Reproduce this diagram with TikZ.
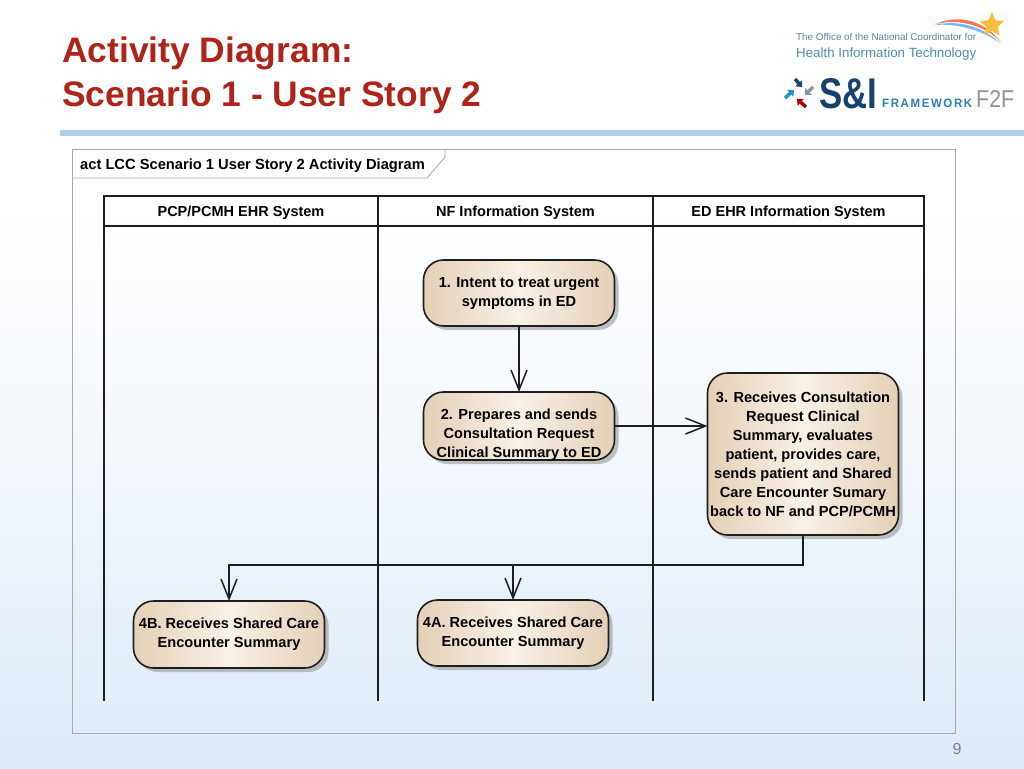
\documentclass[tikz,border=0pt]{standalone}
\usepackage{fontspec}
\setmainfont{Liberation Sans}
\usetikzlibrary{arrows.meta,shadows,shapes.geometric}
\definecolor{titlered}{HTML}{B02318}
\definecolor{barblue}{HTML}{AFD0EA}
\definecolor{framegray}{HTML}{A8A8A8}
\definecolor{linedark}{HTML}{1E1E1E}
\definecolor{tan}{HTML}{E4D0B6}
\definecolor{tanlight}{HTML}{F8F1E6}
\definecolor{bgblue}{HTML}{DCEAF7}
\definecolor{bgmid}{HTML}{F1F6FC}
\definecolor{navy}{HTML}{17426F}
\definecolor{fwblue}{HTML}{2A7FB5}
\definecolor{hitblue}{HTML}{4C8DB3}
\definecolor{oncgray}{HTML}{5F8199}
\definecolor{f2fgray}{HTML}{8E9499}
\definecolor{stargold}{HTML}{F6BE3C}
\newcommand\lowline[1]{\smash{\raisebox{-12pt}{#1}}}
\tikzset{
  x=1pt,y=-1pt,
  titletext/.style={anchor=base west,inner sep=0,font=\fontsize{35.4}{40}\selectfont\bfseries,text=titlered},
  act/.style={draw=linedark,line width=1.6pt,rounded corners=20pt,inner sep=0,outer sep=0,
    left color=tan,right color=tan,middle color=tanlight,
    align=center,font=\fontsize{14.6}{19}\selectfont\bfseries,
    minimum width=191pt,
    drop shadow={shadow xshift=4pt,shadow yshift=-4pt,fill=black!40,opacity=.6}},
  lanehead/.style={draw=linedark,line width=2pt,minimum height=30pt,inner sep=0,outer sep=0,
    text height=10pt,text depth=0pt,
    font=\fontsize{14.5}{17}\selectfont\bfseries},
  laneline/.style={draw=linedark,line width=2pt},
  flow/.style={draw=linedark,line width=1.5pt,-{Straight Barb[length=20pt,width=16pt,line width=1.5pt]}},
  logotext/.style={anchor=base west,inner sep=0},
  logoarrow/.style={line width=3.5pt,-{Triangle[length=5pt,width=9pt]}},
}
\begin{document}
\begin{tikzpicture}
\useasboundingbox (0,0) rectangle (1024,768);
% background
\fill[white] (0,0) rectangle (1024,200);
\shade[top color=white,bottom color=bgmid] (0,200) rectangle (1024,480);
\shade[top color=bgmid,bottom color=bgblue] (0,480) rectangle (1024,768);
% title
\node[titletext] (title1) at (62,63) {Activity Diagram:};
\node[titletext] (title2) at (62,106) {Scenario 1 - User Story 2};
\fill[barblue] (60,130) rectangle (1024,136);
% logos
\node[logotext,text=oncgray] (onc) at (796,41) {\resizebox{180pt}{!}{The Office of the National Coordinator for}};
\node[logotext,text=hitblue] (hit) at (796,57) {\resizebox{180pt}{!}{Health Information Technology}};
\fill[red!55!orange!70] (936,24) .. controls (960,13) and (985,22) .. (1001,42) .. controls (985,26) and (960,18) .. (936,24) -- cycle;
\fill[blue!50!cyan!55] (934,25) .. controls (960,19) and (985,28) .. (1000,43) .. controls (985,32) and (960,23) .. (934,25) -- cycle;
\node[star,star points=5,star point ratio=2.2,fill=stargold,minimum size=26pt,inner sep=0] (star) at (992,25) {};
\node[logotext,font=\fontsize{41}{41}\selectfont\bfseries,text=navy] (si) at (819,108) {\resizebox{58pt}{30pt}{S\&I}};
\node[logotext,font=\fontsize{11.5}{13}\selectfont\bfseries,text=fwblue] (fw) at (882,107.5) {\resizebox{90pt}{8.5pt}{\addfontfeature{LetterSpace=14}FRAMEWORK}};
\node[logotext,font=\fontsize{24}{24}\selectfont,text=f2fgray] (f2f) at (976,107) {\resizebox{38pt}{17pt}{F2F}};
\draw[logoarrow,navy] (795,79) -- (802,87);
\draw[logoarrow,fwblue!85!cyan] (785,98) -- (794,90);
\draw[logoarrow,f2fgray] (813,87) -- (805,95);
\draw[logoarrow,red!70!black] (806,107) -- (797,99);
% frame
\draw[framegray,line width=.8pt] (72,149) rectangle (955,733);
\draw[framegray,line width=.8pt] (72,178) -- (427,178) -- (445,157) -- (445,149);
\node[anchor=base west,inner sep=0,font=\fontsize{14.7}{17}\selectfont\bfseries] (frametitle) at (80,169) {act LCC Scenario 1 User Story 2 Activity Diagram};
% lanes
\node[lanehead,minimum width=274pt] (h1) at (241,211) {PCP/PCMH EHR System};
\node[lanehead,minimum width=275pt] (h2) at (515.5,211) {NF Information System};
\node[lanehead,minimum width=271pt] (h3) at (788.5,211) {ED EHR Information System};
\coordinate (b1) at (104,701);
\coordinate (b2) at (378,701);
\coordinate (b3) at (653,701);
\coordinate (b4) at (924,701);
\draw[laneline] (h1.south west) -- (b1);
\draw[laneline] (h2.south west) -- (b2);
\draw[laneline] (h3.south west) -- (b3);
\draw[laneline] (h3.south east) -- (b4);
% activities
\node[act,minimum height=66pt] (n1) at (519,293) {1. Intent to treat urgent\\symptoms in ED};
\node[act,minimum height=68pt] (n2) at (519,426) {\lowline{2. Prepares and sends}\\\lowline{Consultation Request}\\\lowline{Clinical Summary to ED}};
\node[act,minimum height=162pt] (n3) at (803,454) {3. Receives Consultation\\Request Clinical\\Summary, evaluates\\patient, provides care,\\sends patient and Shared\\Care Encounter Sumary\\back to NF and PCP/PCMH};
\node[act,minimum height=67pt] (n4b) at (229,634.5) {4B. Receives Shared Care\\Encounter Summary};
\node[act,minimum height=66pt] (n4a) at (513,633) {4A. Receives Shared Care\\Encounter Summary};
% connectors
\coordinate (bus) at (803,565);
\draw[flow] (n1.south) -- (n2.north);
\draw[flow] (n2.east) -- (n3.west |- n2.east);
\draw[flow] (n3.south) -- (bus) -| (n4b.north);
\draw[flow] (n4a.north |- bus) -- (n4a.north);
% page number
\node[anchor=base,inner sep=0,font=\fontsize{16}{18}\selectfont,text=black!50] (page) at (957,754) {9};
\end{tikzpicture}
\end{document}
